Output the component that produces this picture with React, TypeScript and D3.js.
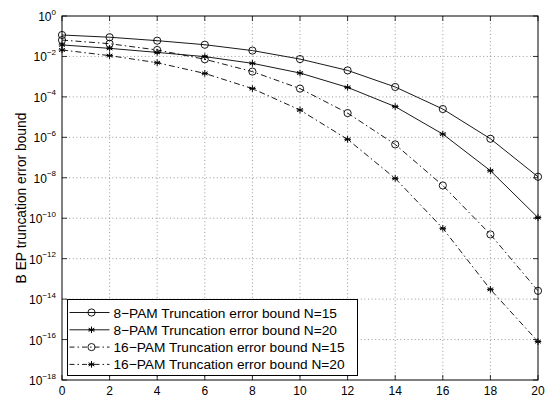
import * as d3 from "d3";

// x positions (SNR-ish, 0..20)
const xs = [0, 2, 4, 6, 8, 10, 12, 14, 16, 18, 20];

// log10 of the bound
const pam8N15 = [-0.94, -1.05, -1.22, -1.42, -1.71, -2.13, -2.69, -3.51, -4.6, -6.07, -7.95];
const pam8N20 = [-1.43, -1.6, -1.8, -2.01, -2.34, -2.82, -3.53, -4.48, -5.84, -7.65, -9.97];
const pam16N15 = [-1.19, -1.37, -1.68, -2.14, -2.75, -3.59, -4.8, -6.35, -8.38, -10.8, -13.59];
const pam16N20 = [-1.68, -1.96, -2.31, -2.84, -3.59, -4.65, -6.1, -8.03, -10.5, -13.52, -16.1];

const labels = [
  "8\u2212PAM Truncation error bound N=15",
  "8\u2212PAM Truncation error bound N=20",
  "16\u2212PAM Truncation error bound N=15",
  "16\u2212PAM Truncation error bound N=20",
];

const xTicks = [0, 2, 4, 6, 8, 10, 12, 14, 16, 18, 20];
const yTickExps = [0, -2, -4, -6, -8, -10, -12, -14, -16, -18];

const series = [
  { name: labels[0], vals: pam8N15, marker: "o", dash: null },
  { name: labels[1], vals: pam8N20, marker: "*", dash: null },
  { name: labels[2], vals: pam16N15, marker: "o", dash: "6,3,1.5,3" },
  { name: labels[3], vals: pam16N20, marker: "*", dash: "6,3,1.5,3" },
];

const W = 552;
const H = 401;
const margin = { top: 16, right: 14, bottom: 21, left: 62 };
const font = "Liberation Sans, Arial, Helvetica, sans-serif";

function Marker({ kind, cx, cy }: { kind: string; cx: number; cy: number }) {
  if (kind === "o") {
    return <circle cx={cx} cy={cy} r={3.6} fill="none" stroke="#000" strokeWidth={0.9} />;
  }
  const r = 3.3;
  const angles = [0, 60, 120];
  return (
    <g stroke="#000" strokeWidth={1}>
      {angles.map((a) => {
        const t = ((a + 90) * Math.PI) / 180;
        return (
          <line
            key={a}
            x1={cx - r * Math.cos(t)}
            y1={cy - r * Math.sin(t)}
            x2={cx + r * Math.cos(t)}
            y2={cy + r * Math.sin(t)}
          />
        );
      })}
      <line x1={cx - r} y1={cy} x2={cx + r} y2={cy} />
    </g>
  );
}

export default function App() {
  const innerW = W - margin.left - margin.right;
  const innerH = H - margin.top - margin.bottom;

  const x = d3.scaleLinear().domain([0, 20]).range([margin.left, margin.left + innerW]);
  const y = d3.scaleLinear().domain([0, -18]).range([margin.top, margin.top + innerH]);

  const line = d3
    .line<number>()
    .x((_, i) => x(xs[i]))
    .y((d) => y(d));

  const x0 = margin.left;
  const x1 = margin.left + innerW;
  const y0 = margin.top;
  const y1 = margin.top + innerH;
  const tick = 5;

  // legend box
  const lg = { x: 67.5, y: 299.5, w: 290, h: 76 };
  const rowH = 17.3;

  return (
    <svg width={W} height={H} style={{ position: "absolute", left: 0, top: 0, background: "#fff" }}>
      <rect x={0} y={0} width={W} height={H} fill="#fff" />
      {/* grid */}
      <g stroke="#555" strokeWidth={0.6} strokeDasharray="1,2.6">
        {xTicks.slice(1, -1).map((t) => (
          <line key={"gx" + t} x1={x(t)} x2={x(t)} y1={y0} y2={y1} />
        ))}
        {yTickExps.slice(1, -1).map((t) => (
          <line key={"gy" + t} x1={x0} x2={x1} y1={y(t)} y2={y(t)} />
        ))}
      </g>

      {/* ticks */}
      <g stroke="#000" strokeWidth={0.8}>
        {xTicks.map((t) => (
          <g key={"tx" + t}>
            <line x1={x(t)} x2={x(t)} y1={y1} y2={y1 - tick} />
            <line x1={x(t)} x2={x(t)} y1={y0} y2={y0 + tick} />
          </g>
        ))}
        {yTickExps.map((t) => (
          <g key={"ty" + t}>
            <line x1={x0} x2={x0 + tick} y1={y(t)} y2={y(t)} />
            <line x1={x1} x2={x1 - tick} y1={y(t)} y2={y(t)} />
          </g>
        ))}
      </g>

      {/* series */}
      {series.map((s) => (
        <g key={s.name}>
          <path
            d={line(s.vals) || ""}
            fill="none"
            stroke="#000"
            strokeWidth={0.9}
            strokeDasharray={s.dash || undefined}
          />
          {s.vals.map((v, i) => (
            <Marker key={i} kind={s.marker} cx={x(xs[i])} cy={y(v)} />
          ))}
        </g>
      ))}

      {/* box */}
      <rect x={x0} y={y0} width={innerW} height={innerH} fill="none" stroke="#000" strokeWidth={1} />

      {/* x tick labels */}
      <g fontFamily={font} fontSize={12} textAnchor="middle">
        {xTicks.map((t) => (
          <text key={"lx" + t} x={x(t)} y={y1 + 15}>
            {t}
          </text>
        ))}
      </g>

      {/* y tick labels */}
      <g fontFamily={font} fontSize={12}>
        {yTickExps.map((t) => (
          <text key={"ly" + t} x={x0 - 6} y={y(t) + 5} textAnchor="end">
            10
            <tspan fontSize={8} dy={-6.5}>
              {t === 0 ? "0" : "\u2212" + Math.abs(t)}
            </tspan>
          </text>
        ))}
      </g>

      {/* y label */}
      <text
        transform={`translate(${26},${(y0 + y1) / 2}) rotate(-90)`}
        textAnchor="middle"
        fontFamily={font}
        fontSize={13.8}
      >
        B EP truncation error bound
      </text>

      {/* legend */}
      <rect x={lg.x} y={lg.y} width={lg.w} height={lg.h} fill="#fff" stroke="#000" strokeWidth={1} />
      {series.map((s, i) => {
        const cy = lg.y + 13 + i * rowH;
        return (
          <g key={"lg" + i}>
            <line
              x1={lg.x + 2}
              x2={lg.x + 42}
              y1={cy}
              y2={cy}
              stroke="#000"
              strokeWidth={0.9}
              strokeDasharray={s.dash ? "5,3,1.5,3" : undefined}
            />
            <Marker kind={s.marker} cx={lg.x + 24} cy={cy} />
            <text x={lg.x + 46} y={cy + 5} fontFamily={font} fontSize={13.7}>
              {s.name}
            </text>
          </g>
        );
      })}
    </svg>
  );
}
